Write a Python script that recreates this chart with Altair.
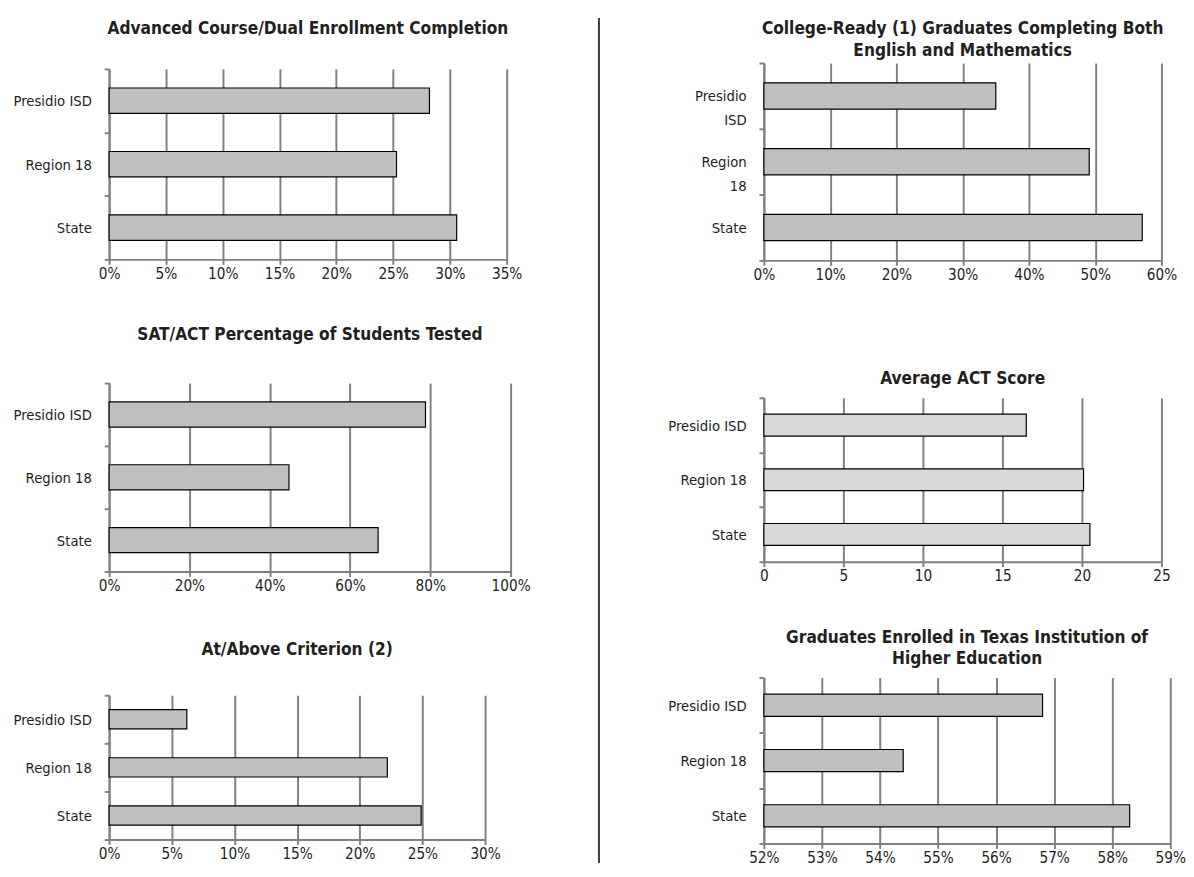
import altair as alt
import pandas as pd

categories = ["Presidio ISD", "Region 18", "State"]

adv_title = ["Advanced Course/Dual Enrollment Completion"]
adv_values = [28.2, 25.3, 30.6]
adv_ticks = [0, 5, 10, 15, 20, 25, 30, 35]

sat_title = ["SAT/ACT Percentage of Students Tested"]
sat_values = [78.8, 44.8, 67.0]
sat_ticks = [0, 20, 40, 60, 80, 100]

crit_title = ["At/Above Criterion (2)"]
crit_values = [6.2, 22.2, 24.9]
crit_ticks = [0, 5, 10, 15, 20, 25, 30]

cr_title = ["College-Ready (1) Graduates Completing Both", "English and Mathematics"]
cr_values = [35.0, 49.1, 57.1]
cr_ticks = [0, 10, 20, 30, 40, 50, 60]

act_title = ["Average ACT Score"]
act_values = [16.5, 20.1, 20.5]
act_ticks = [0, 5, 10, 15, 20, 25]

enr_title = ["Graduates Enrolled in Texas Institution of", "Higher Education"]
enr_values = [56.8, 54.4, 58.3]
enr_ticks = [52, 53, 54, 55, 56, 57, 58, 59]

LABEL_FONT = "DejaVu Sans Condensed, sans-serif"
TITLE_FONT = "DejaVu Sans Condensed, sans-serif"
GRID = "#808080"
INK = "#231f20"


def panel(title, values, ticks, width, height, fill="#c0c0c0", pct=True,
          wrap=False, title_offset=30):
    df = pd.DataFrame({"cat": categories, "val": values})
    x_axis = alt.Axis(
        values=ticks,
        labelExpr="datum.value + '%'" if pct else "datum.label",
        title=None, grid=True, gridColor=GRID, gridWidth=2,
        domainColor=GRID, domainWidth=2, tickColor=GRID, tickWidth=2,
        tickSize=5, labelFontSize=15.5, labelColor=INK, labelFont=LABEL_FONT,
        labelPadding=2, labelFlush=False, labelOverlap=False,
    )
    y_kwargs = dict(
        title=None, tickBand="extent", tickSize=5, tickColor=GRID, tickWidth=2,
        domainColor=GRID, domainWidth=2, labelFontSize=15, labelColor=INK,
        labelFont=LABEL_FONT, labelPadding=13, grid=False,
    )
    if wrap:
        y_kwargs["labelExpr"] = "split(datum.label, ' ')"
        y_kwargs["labelLineHeight"] = 24
    y_axis = alt.Axis(**y_kwargs)
    return (
        alt.Chart(df)
        .mark_bar(height=alt.RelativeBandSize(0.4), fill=fill, stroke="black",
                  strokeWidth=1.2)
        .encode(
            x=alt.X("val:Q", scale=alt.Scale(domain=[ticks[0], ticks[-1]],
                                               nice=False, zero=False),
                    axis=x_axis),
            x2=alt.X2(datum=ticks[0]),
            y=alt.Y("cat:N", sort=categories,
                    scale=alt.Scale(paddingInner=0, paddingOuter=0),
                    axis=y_axis),
        )
        .properties(
            width=width, height=height,
            view=alt.ViewBackground(stroke="transparent"),
            title=alt.TitleParams(text=title, font=TITLE_FONT, fontSize=17.5,
                                  fontWeight="bold", color=INK, lineHeight=22,
                                  offset=title_offset, anchor="middle"),
        )
    )


def spacer():
    return (
        alt.Chart(pd.DataFrame({"d": [0]}))
        .mark_rule(opacity=0)
        .encode(x=alt.value(0), y=alt.value(0), y2=alt.value(1))
        .properties(width=1, height=1, view=alt.ViewBackground(stroke="transparent"))
    )


p1 = panel(adv_title, adv_values, adv_ticks, 405, 194, title_offset=25)
p2 = panel(sat_title, sat_values, sat_ticks, 409, 192, title_offset=33)
p3 = panel(crit_title, crit_values, crit_ticks, 383, 147, title_offset=30)
p4 = panel(cr_title, cr_values, cr_ticks, 405, 201, wrap=True, title_offset=-3)
p5 = panel(act_title, act_values, act_ticks, 405, 167, fill="#d9d9d9",
           pct=False, title_offset=4)
p6 = panel(enr_title, enr_values, enr_ticks, 414, 169, title_offset=3)

divider = (
    alt.Chart(pd.DataFrame({"d": [0]}))
    .mark_rule(color="#3a3a3a", strokeWidth=2)
    .encode(x=alt.value(0), y=alt.value(0), y2=alt.value(861))
    .properties(width=1, height=861, view=alt.ViewBackground(stroke="transparent"))
)

left_body = alt.concat(
    p1, alt.concat(p2, p3, columns=1, spacing=48, align="none"),
    columns=1, spacing=45, align="none")
right_body = alt.concat(
    p4, alt.concat(p5, p6, columns=1, spacing=45, align="none"),
    columns=1, spacing=88, align="none")

left = alt.concat(spacer(), left_body, columns=1, spacing=0, align="none")
right = alt.concat(spacer(), right_body, columns=1, spacing=0, align="none")

chart = (
    alt.concat(left, divider, right, columns=3, spacing=67, align="none")
    .properties(padding={"left": 4, "top": 0, "right": 0, "bottom": 0})
    .configure_view(stroke="transparent", strokeWidth=0)
    .configure(background="white")
)

chart.save("out.html", embed_options={"renderer": "svg", "actions": False})
